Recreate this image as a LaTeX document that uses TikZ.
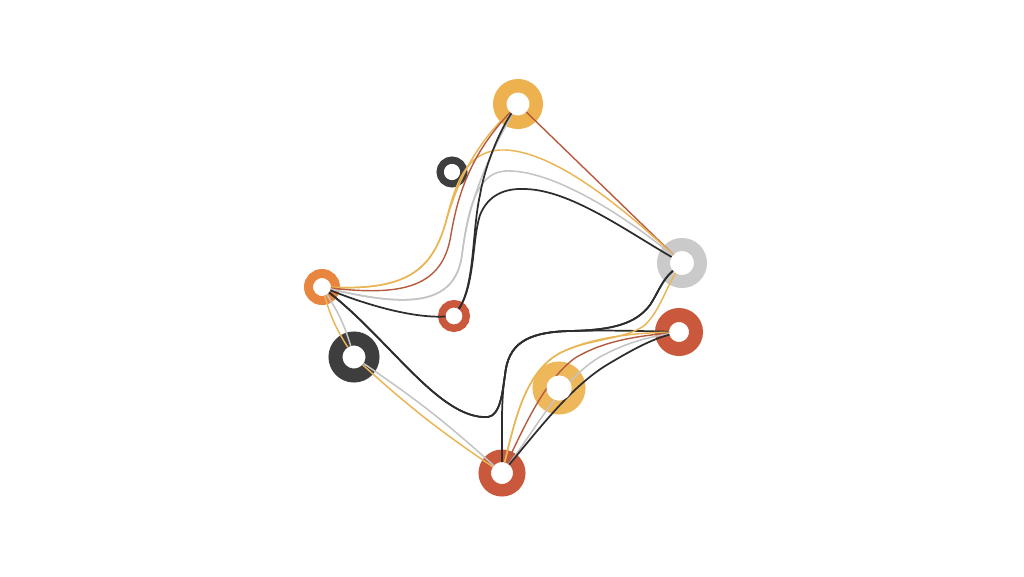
\documentclass[tikz,border=0pt]{standalone}
\begin{document}
\begin{tikzpicture}[x=0.75pt,y=-0.75pt,
  ring/.style n args={3}{circle, inner sep=0pt, minimum size=#1*1.5pt,
    line width=#2*0.75pt, outer sep=-#2*0.375pt, draw=#3, fill=white},
  yl/.style={draw=lnY, line width=1.1pt},
  br/.style={draw=lnB, line width=1.05pt},
  gr/.style={draw=lnG, line width=1.15pt},
  bk/.style={draw=lnK, line width=1.3pt},
  hole/.style={fill=white}]
\definecolor{cY}{HTML}{EDB24F}
\definecolor{cH}{HTML}{EEB85A}
\definecolor{cO}{HTML}{E8853F}
\definecolor{cR}{HTML}{C9583D}
\definecolor{cK}{HTML}{3E3E3E}
\definecolor{cG}{HTML}{CACACA}
\definecolor{lnY}{HTML}{EAB553}
\definecolor{lnB}{HTML}{B65A3E}
\definecolor{lnG}{HTML}{C4C4C4}
\definecolor{lnK}{HTML}{2D2D2D}
\useasboundingbox[fill=white] (0,0) rectangle (1024,576);

% rings
\node[ring={18.25}{13.5}{cY}] (A) at (518,104) {};
\node[ring={11.75}{7.5}{cK}] (B) at (452,172) {};
\node[ring={18.5}{13}{cG}] (C) at (682,263) {};
\node[ring={13.5}{9}{cO}] (D) at (322,287) {};
\node[ring={12.25}{7.5}{cR}] (E) at (454,316) {};
\node[ring={18.5}{14}{cK}] (F) at (354,357) {};
\node[ring={17}{14}{cR}] (G) at (679,332) {};
\node[ring={19.5}{14}{cH}] (H) at (559,388) {};
\node[ring={17.25}{12.5}{cR}] (I) at (502,473) {};

% top bundle
\draw[br] (A) -- (C);
\draw[yl] (D) .. controls (400,290) and (430,275) .. (445,225) .. controls (455,190) and (470,150) .. (A);
\draw[yl] (D) .. controls (400,290) and (430,275) .. (445,225) .. controls (455,185) and (465,152) .. (500,150) .. controls (550,148) and (620,205) .. (C);
\draw[br] (D) .. controls (400,296) and (440,288) .. (450,240) .. controls (456,205) and (465,160) .. (A);
\draw[gr] (D) .. controls (410,308) and (455,305) .. (462,255) .. controls (467,215) and (478,175) .. (A);
\draw[gr] (D) .. controls (410,308) and (455,305) .. (462,255) .. controls (467,215) and (475,173) .. (505,171) .. controls (550,169) and (620,212) .. (C);
\draw[bk] (D) .. controls (380,310) and (420,318) .. (E);
\draw[bk] (E) .. controls (475,285) and (472,230) .. (480,195) .. controls (485,165) and (500,130) .. (A);
\draw[bk] (E) .. controls (475,285) and (472,240) .. (480,215) .. controls (488,195) and (505,188) .. (525,189) .. controls (570,190) and (625,230) .. (C);

% left bundle
\draw[yl] (D) to[bend right=8] (F);
\draw[gr] (D) to[bend left=8] (F);
\draw[yl] (F) to[bend right=4] (I);
\draw[gr] (F) to[bend left=4] (I);

% bottom bundle
\draw[bk] (D) .. controls (390,340) and (440,420) .. (488,417) .. controls (500,415) and (502,395) .. (505,375) .. controls (508,345) and (525,332) .. (570,331) .. controls (610,330) and (640,331) .. (G);
\draw[bk] (D) .. controls (390,340) and (440,420) .. (488,417) .. controls (500,415) and (502,395) .. (505,375) .. controls (508,345) and (525,332) .. (570,331) .. controls (610,330) and (635,325) .. (650,305) .. controls (658,293) and (662,280) .. (C);
\draw[bk] (I) .. controls (502,430) and (501,400) .. (505,375) .. controls (508,345) and (525,332) .. (570,331) .. controls (610,330) and (635,325) .. (650,305) .. controls (658,293) and (662,280) .. (C);
\draw[yl] (I) .. controls (515,420) and (525,372) .. (560,353) .. controls (590,338) and (630,333) .. (G);
\draw[yl] (I) .. controls (515,420) and (525,372) .. (560,353) .. controls (590,338) and (625,340) .. (645,325) .. controls (660,310) and (665,290) .. (C);
\draw[br] (I) .. controls (525,425) and (545,380) .. (575,358) .. controls (605,340) and (640,336) .. (G);
\draw[gr] (I) .. controls (535,430) and (560,382) .. (598,358) .. controls (625,343) and (645,338) .. (G);
\draw[bk] (I) .. controls (540,428) and (572,385) .. (610,363) .. controls (632,350) and (650,340) .. (G);

% holes kept clear where lines pass over
\fill[hole] (H.center) circle[radius=12.5*0.75pt];
\fill[hole] (B.center) circle[radius=8*0.75pt];
\end{tikzpicture}
\end{document}
